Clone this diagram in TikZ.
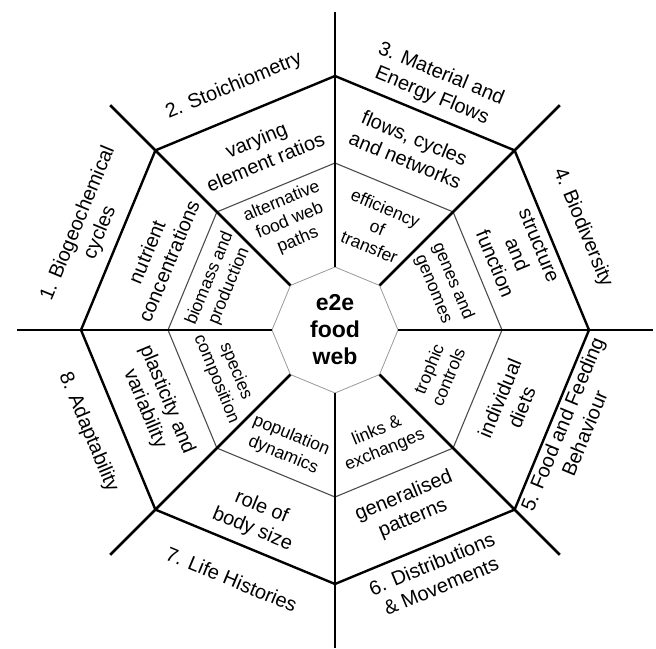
\documentclass[tikz,border=0pt]{standalone}
\usepackage{fontspec}
\setmainfont{Liberation Sans}
\begin{document}
\begin{tikzpicture}[x=1pt,y=1pt,
  spoke/.style={line width=2.6pt, line cap=butt},
  outerring/.style={line width=2.4pt, line join=miter},
  midring/.style={line width=1.1pt, draw=black!70},
  innerring/.style={line width=0.8pt, draw=black!40},
  outerlbl/.style={font=\fontsize{20}{24}\selectfont, align=center, inner sep=0pt},
  midlbl/.style={font=\fontsize{20}{24}\selectfont, align=center, inner sep=0pt},
  innerlbl/.style={font=\fontsize{17.5}{21}\selectfont, align=center, inner sep=0pt},
  centerlbl/.style={font=\fontsize{23}{27}\selectfont\bfseries, align=center, inner sep=0pt}
]
\useasboundingbox (-335,-318) rectangle (321,330);
\foreach \i in {0,...,7}{
  \coordinate (a\i) at ({45*\i}:63);
  \coordinate (b\i) at ({45*\i}:167);
  \coordinate (c\i) at ({45*\i}:254);
  \coordinate (d\i) at ({45*\i}:318);
}
\draw[innerring] (a0) -- (a1) -- (a2) -- (a3) -- (a4) -- (a5) -- (a6) -- (a7) -- cycle;
\draw[midring] (b0) -- (b1) -- (b2) -- (b3) -- (b4) -- (b5) -- (b6) -- (b7) -- cycle;
\draw[outerring] (c0) -- (c1) -- (c2) -- (c3) -- (c4) -- (c5) -- (c6) -- (c7) -- cycle;
\foreach \i in {0,...,7}{
  \draw[spoke] (a\i) -- (d\i);
}
\node[centerlbl] (ctr) at (0,0) {e2e\\food\\web};
% outer labels
\node[outerlbl, rotate=67.5] (o1) at (157.5:266) {1. Biogeochemical\\cycles};
\node[outerlbl, rotate=22.5] (o2) at (112.5:264) {2. Stoichiometry};
\node[outerlbl, rotate=-22.5] (o3) at (67.5:265) {3. Material and\\Energy Flows};
\node[outerlbl, rotate=-67.5] (o4) at (22.5:268) {4. Biodiversity};
\node[outerlbl, rotate=67.5] (o5) at (-22.5:258) {5. Food and Feeding\\Behaviour};
\node[outerlbl, rotate=22.5] (o6) at (-67.5:265) {6. Distributions\\\& Movements};
\node[outerlbl, rotate=-22.5] (o7) at (-112.5:270) {7. Life Histories};
\node[outerlbl, rotate=-67.5] (o8) at (-157.5:267) {8. Adaptability};
% middle labels
\node[midlbl, rotate=67.5] (m1) at (157.5:192) {nutrient\\concentrations};
\node[midlbl, rotate=22.5] (m2) at (112.5:194) {varying\\element ratios};
\node[midlbl, rotate=-22.5] (m3) at (67.5:196) {flows, cycles\\and networks};
\node[midlbl, rotate=-67.5] (m4) at (22.5:197) {structure\\and\\function};
\node[midlbl, rotate=67.5] (m5) at (-22.5:190) {individual\\diets};
\node[midlbl, rotate=22.5] (m6) at (-67.5:192) {generalised\\patterns};
\node[midlbl, rotate=-22.5] (m7) at (-112.5:204) {role of\\body size};
\node[midlbl, rotate=-67.5] (m8) at (-157.5:194) {plasticity and\\variability};
% inner labels
\node[innerlbl, rotate=67.5] (i1) at (157.5:125) {biomass and\\production};
\node[innerlbl, rotate=22.5] (i2) at (112.5:118) {alternative\\food web\\paths};
\node[innerlbl, rotate=-22.5] (i3) at (67.5:111) {efficiency\\of\\transfer};
\node[innerlbl, rotate=-67.5] (i4) at (22.5:117) {genes and\\genomes};
\node[innerlbl, rotate=67.5] (i5) at (-22.5:112) {trophic\\controls};
\node[innerlbl, rotate=22.5] (i6) at (-67.5:120) {links \&\\exchanges};
\node[innerlbl, rotate=-22.5] (i7) at (-112.5:125) {population\\dynamics};
\node[innerlbl, rotate=-67.5] (i8) at (-157.5:118) {species\\composition};
\end{tikzpicture}
\end{document}
